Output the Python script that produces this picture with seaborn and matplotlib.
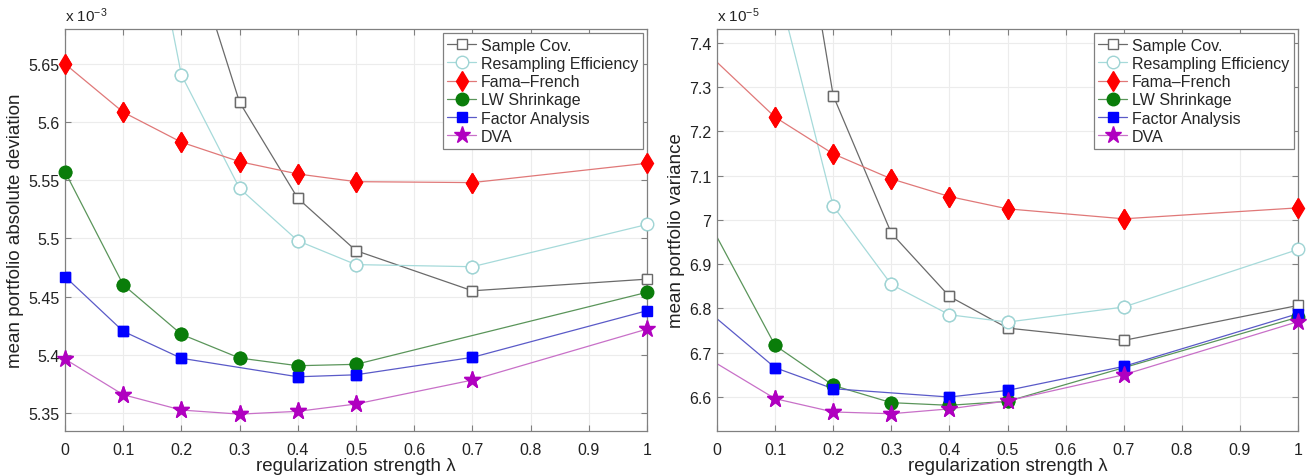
import numpy as np
import matplotlib
matplotlib.use("Agg")
import matplotlib.pyplot as plt
import seaborn as sns
from matplotlib.ticker import MultipleLocator, FuncFormatter

# ---------------- data ----------------
lam = [0, 0.1, 0.2, 0.3, 0.4, 0.5, 0.7, 1.0]
series_names = ["Sample Cov.", "Resampling Efficiency", "Fama\u2013French",
                "LW Shrinkage", "Factor Analysis", "DVA"]

# left panel: mean portfolio absolute deviation (x 1e-3)
mad_sample = [6.20, 5.95, 5.775, 5.617, 5.5345, 5.4895, 5.455, 5.465]
mad_resamp = [6.20, 5.895, 5.6405, 5.543, 5.498, 5.4775, 5.4757, 5.512]
mad_ff = [5.65, 5.6085, 5.5827, 5.566, 5.5554, 5.5488, 5.548, 5.5646]
mad_lw = [5.5574, 5.4602, 5.4176, 5.3972, 5.3906, 5.3918, None, 5.4537]
mad_fa = [5.4672, 5.4202, 5.397, None, 5.3811, 5.3828, 5.3978, 5.4379]
mad_dva = [5.3963, 5.3657, 5.3525, 5.349, 5.3514, 5.3577, 5.3783, 5.4221]

# right panel: mean portfolio variance (x 1e-5)
var_sample = [8.9, 8.07, 7.2806, 6.970, 6.827, 6.7555, 6.7276, 6.8066]
var_resamp = [8.1, 7.55, 7.031, 6.854, 6.7856, 6.769, 6.803, 6.933]
var_ff = [7.356, 7.2318, 7.149, 7.0925, 7.0526, 7.0248, 7.0023, 7.027]
var_lw = [6.961, 6.7163, 6.626, 6.587, 6.581, 6.59, None, 6.78]
var_fa = [6.7765, 6.666, 6.6185, None, 6.5997, 6.6147, 6.6689, 6.788]
var_dva = [6.675, 6.596, 6.566, 6.562, 6.573, 6.591, 6.65, 6.77]

# ---------------- styles ----------------
styles = [
    dict(color="#6a6a6a", marker="s", ms=7, mfc="white", mec="#6a6a6a"),
    dict(color="#a6dada", marker="o", ms=9, mfc="white", mec="#9fd4d4"),
    dict(color="#e07878", marker="d", ms=10.5, mfc="#ff0000", mec="#ff0000"),
    dict(color="#5a955a", marker="o", ms=9, mfc="#0a7d0a", mec="#0a7d0a"),
    dict(color="#5a5ac8", marker="s", ms=7, mfc="#0000ff", mec="#0000ff"),
    dict(color="#c870c8", marker="*", ms=12.5, mfc="#b000c0", mec="#b000c0"),
]

sns.set_theme(style="white")
plt.rcParams["font.family"] = ["Liberation Sans", "DejaVu Sans"]
plt.rcParams["mathtext.fontset"] = "custom"
plt.rcParams["mathtext.rm"] = "Liberation Sans"
plt.rcParams["mathtext.it"] = "Liberation Sans:italic"

fig = plt.figure(figsize=(13.1, 4.77), dpi=100)
ax1 = fig.add_axes([65 / 1310, 1 - 432 / 477, (647 - 65) / 1310, (432 - 30) / 477])
ax2 = fig.add_axes([717 / 1310, 1 - 432 / 477, (1298 - 717) / 1310, (432 - 30) / 477])


def draw(ax, data, marker_at_zero, ylim, ytick_step, ylabel, expo):
    for name, vals, st in zip(series_names, data, styles):
        xs, ys, mk = [], [], []
        for xv, yv in zip(lam, vals):
            if yv is None:
                continue
            xs.append(xv)
            ys.append(yv)
            if xv == 0 and not marker_at_zero:
                continue
            mk.append(len(xs) - 1)
        mkw = dict(marker=st["marker"], markersize=st["ms"],
                   markerfacecolor=st["mfc"], markeredgecolor=st["mec"],
                   markeredgewidth=1.0)
        # line (clipped), with markers for the legend handle
        sns.lineplot(x=xs, y=ys, ax=ax, color=st["color"], lw=0.9,
                     markevery=mk, label=name, sort=False, clip_on=True, **mkw)
        # markers on visible points, not clipped at the axes border
        mx = [xs[i] for i in mk if ylim[0] <= ys[i] <= ylim[1]]
        my = [ys[i] for i in mk if ylim[0] <= ys[i] <= ylim[1]]
        sns.lineplot(x=mx, y=my, ax=ax, color=st["color"], lw=0, linestyle="",
                     sort=False, clip_on=False, zorder=5, label="_nolegend_", **mkw)
    ax.set_xlim(0, 1)
    ax.set_ylim(*ylim)
    ax.xaxis.set_major_locator(MultipleLocator(0.1))
    ax.yaxis.set_major_locator(MultipleLocator(ytick_step))
    fmt = FuncFormatter(lambda v, p: ("%.4f" % v).rstrip("0").rstrip(".") if abs(v) > 1e-12 else "0")
    ax.xaxis.set_major_formatter(fmt)
    ax.yaxis.set_major_formatter(fmt)
    ax.grid(True, color="#ececec", lw=0.8, ls="-")
    ax.set_axisbelow(True)
    for sp in ax.spines.values():
        sp.set_color("#808080")
        sp.set_linewidth(0.9)
        sp.set_visible(True)
    ax.tick_params(direction="in", length=4, width=0.8, color="#808080",
                   top=True, right=True, bottom=True, left=True,
                   labelsize=11.5, labelcolor="#222222")
    ax.tick_params(axis="x", pad=8)
    ax.tick_params(axis="y", pad=4)
    ax.set_xlabel("regularization strength \u03bb", fontsize=13.5, labelpad=0, color="#222222")
    ax.set_ylabel(ylabel, fontsize=13.5, labelpad=3, color="#222222")
    ax.text(0.0, 1.012, "x 10$^{%d}$" % expo, transform=ax.transAxes,
            fontsize=11, ha="left", va="bottom", color="#222222")
    handles, labels = ax.get_legend_handles_labels()
    keep = [(h, l) for h, l in zip(handles, labels) if l in series_names]
    leg = ax.legend([h for h, _ in keep], [l for _, l in keep],
                    loc="upper right", fontsize=11.5, frameon=True, fancybox=False,
                    framealpha=1, edgecolor="#808080", borderaxespad=0.25,
                    handlelength=1.8, handletextpad=0.3, labelspacing=0.2,
                    borderpad=0.3)
    leg.get_frame().set_linewidth(0.9)
    leg.set_zorder(10)


draw(ax1, [mad_sample, mad_resamp, mad_ff, mad_lw, mad_fa, mad_dva], True,
     (5.3345, 5.680), 0.05, "mean portfolio absolute deviation", -3)
draw(ax2, [var_sample, var_resamp, var_ff, var_lw, var_fa, var_dva], False,
     (6.523, 7.431), 0.1, "mean portfolio variance", -5)

fig.savefig("out.png", dpi=100)
